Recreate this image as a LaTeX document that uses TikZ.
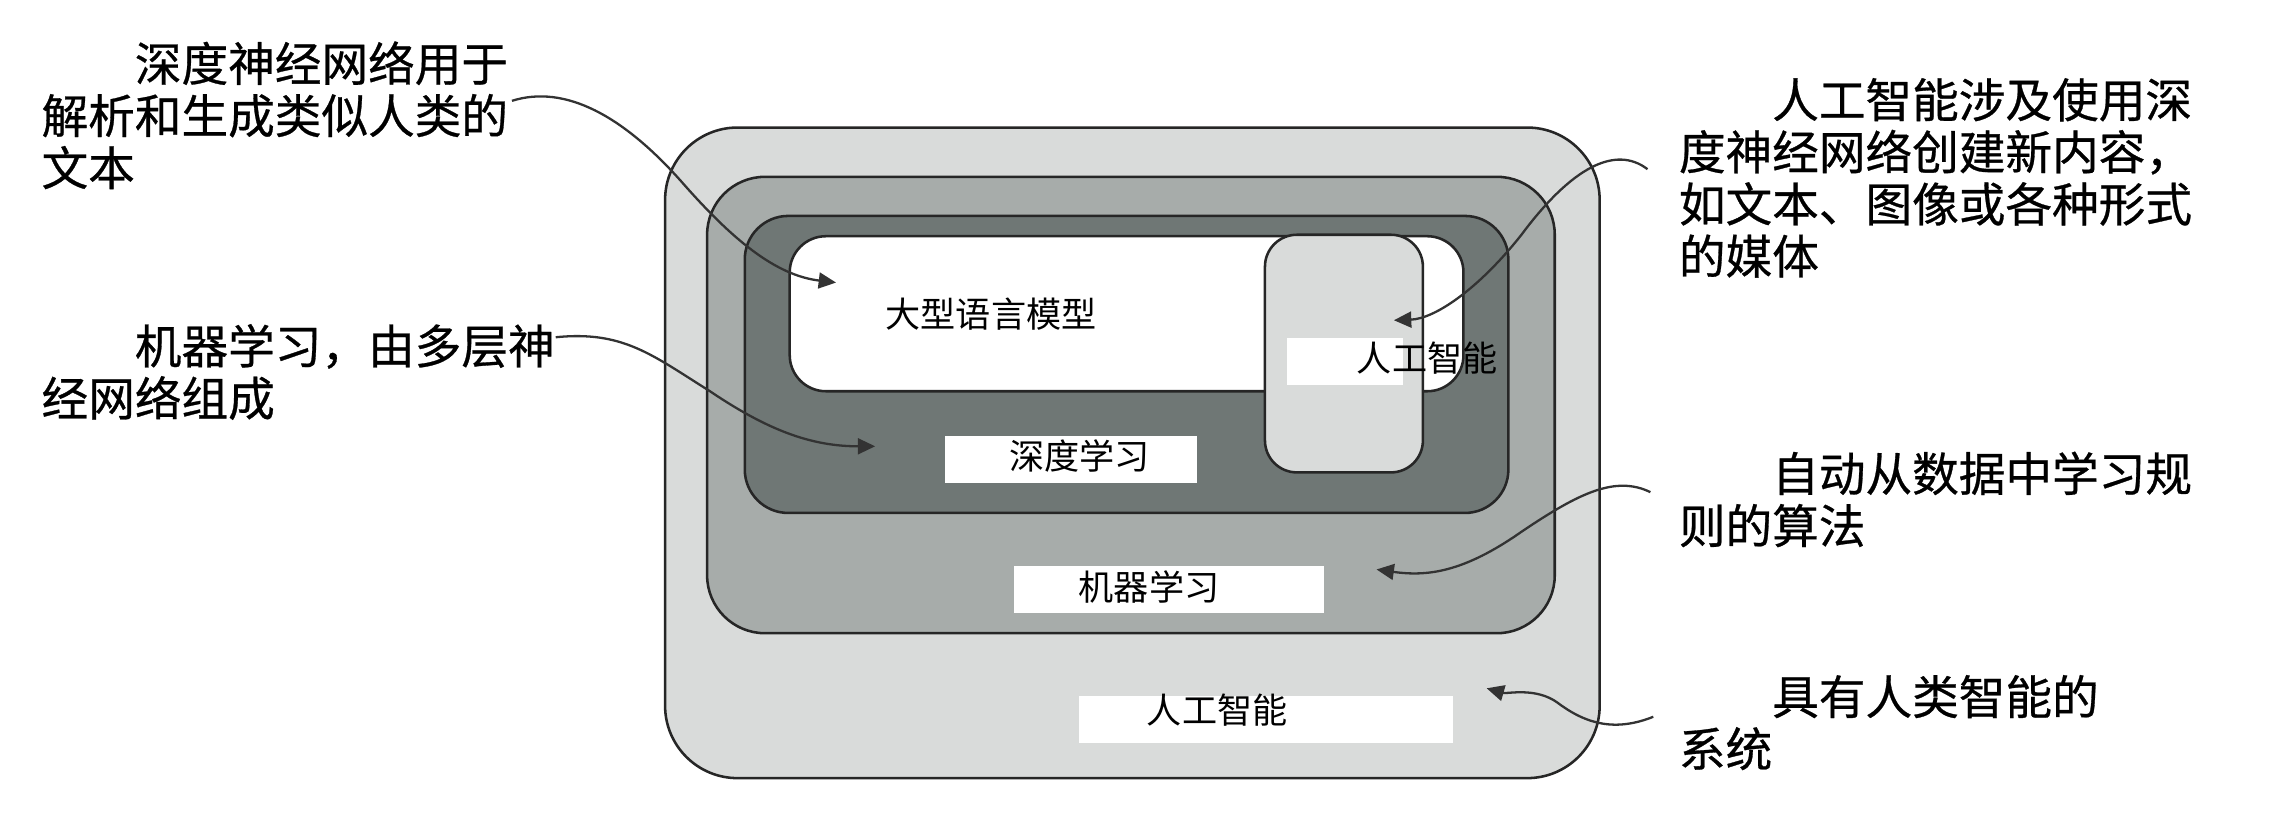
\documentclass[tikz,border=0pt]{standalone}
\usepackage{fontspec}
\newfontfamily\cjk{Noto Sans CJK SC}
\newfontfamily\cjkheavy[FakeBold=0.6]{Noto Sans CJK SC}
\usetikzlibrary{arrows.meta}
\definecolor{aigray}{HTML}{D9DBDA}
\definecolor{mlgray}{HTML}{A7ACAA}
\definecolor{dlgray}{HTML}{6F7775}

\begin{document}
\begin{tikzpicture}[x=0.1mm, y=-0.1mm,
    layer/.style={draw=black!85, line width=0.5pt, inner sep=0, outer sep=0},
    tag/.style={fill=white, inner sep=0, minimum height=3.25mm},
    boxtext/.style={font={\cjk\fontsize{6.9}{8}\selectfont}, inner sep=0},
    note/.style={font={\cjkheavy\fontsize{9.16}{10.24}\selectfont}, align=left, anchor=base west, inner sep=0},
    pointer/.style={draw=black!80, line width=0.45pt, -{Triangle[length=1.2mm,width=1.1mm]}}]
    \path[fill=white, use as bounding box] (0,0) rectangle (1568,567);

    \node[layer, fill=aigray, minimum width=64.5mm, minimum height=44.9mm, rounded corners=5mm] (ai) at (781.5,312.5) {};
    \node[layer, fill=mlgray, minimum width=58.5mm, minimum height=31.5mm, rounded corners=4mm] (ml) at (780.5,279.5) {};
    \node[layer, fill=dlgray, minimum width=52.7mm, minimum height=20.5mm, rounded corners=3mm] (dl) at (777.5,251.5) {};
    \node[layer, fill=white, minimum width=46.5mm, minimum height=10.7mm, rounded corners=2.5mm] (llm) at (777.5,216.5) {};
    \node[layer, fill=aigray, minimum width=10.9mm, minimum height=16.4mm, rounded corners=2.2mm] (gen) at (927.5,244) {};

    \node[tag, minimum width=17.4mm] (dltag) at (739,317) {};
    \node[tag, minimum width=21.4mm] (mltag) at (807,407) {};
    \node[tag, minimum width=25.8mm] (aitag) at (874,496.5) {};
    \node[tag, minimum width=8mm] (gentag) at (928,249.5) {};

    \node[boxtext] (llmtext) at (684,217) {大型语言模型};
    \node[boxtext] (dltext) at (745,315) {深度学习};
    \node[boxtext] (mltext) at (793,405) {机器学习};
    \node[boxtext] (aitext) at (840,490) {人工智能};
    \node[boxtext] (gentext) at (985,247) {人工智能};

    \node[note] (llmnote) at (28,128) {\hspace*{2em}深度神经网络用于\\解析和生成类似人类的\\文本};
    \node[note] (dlnote) at (28,287) {\hspace*{2em}机器学习，由多层神\\经网络组成};
    \node[note] (gennote) at (1158,189) {\hspace*{2em}人工智能涉及使用深\\度神经网络创建新内容，\\如文本、图像或各种形式\\的媒体};
    \node[note] (mlnote) at (1158,375) {\hspace*{2em}自动从数据中学习规\\则的算法};
    \node[note] (ainote) at (1158,529) {\hspace*{2em}具有人类智能的\\系统};

    \coordinate (llmend) at (577,195);
    \coordinate (dlend) at (604,308);
    \coordinate (genend) at (962,221);
    \coordinate (mlend) at (950,393);
    \coordinate (aiend) at (1026,475);

    \draw[pointer] ([shift={(0.2mm,1mm)}]llmnote.east) .. controls (390,58) and (430,80) .. (470,125)
        .. controls (505,165) and (535,190) .. (llmend);
    \draw[pointer] ([yshift=2.4mm]dlnote.east) .. controls (430,228) and (450,245) .. (490,270)
        .. controls (530,297) and (560,308) .. (dlend);
    \draw[pointer] ([shift={(-2.1mm,0.6mm)}]gennote.west) .. controls (1115,100) and (1085,115) .. (1050,162)
        .. controls (1020,200) and (990,220) .. (genend);
    \draw[pointer] ([shift={(-1.9mm,0.5mm)}]mlnote.west) .. controls (1115,328) and (1090,340) .. (1050,367)
        .. controls (1010,395) and (985,398) .. (mlend);
    \draw[pointer] ([shift={(-1.7mm,0.4mm)}]ainote.west) .. controls (1115,505) and (1095,500) .. (1075,485)
        .. controls (1060,474) and (1040,479) .. (aiend);
\end{tikzpicture}
\end{document}
